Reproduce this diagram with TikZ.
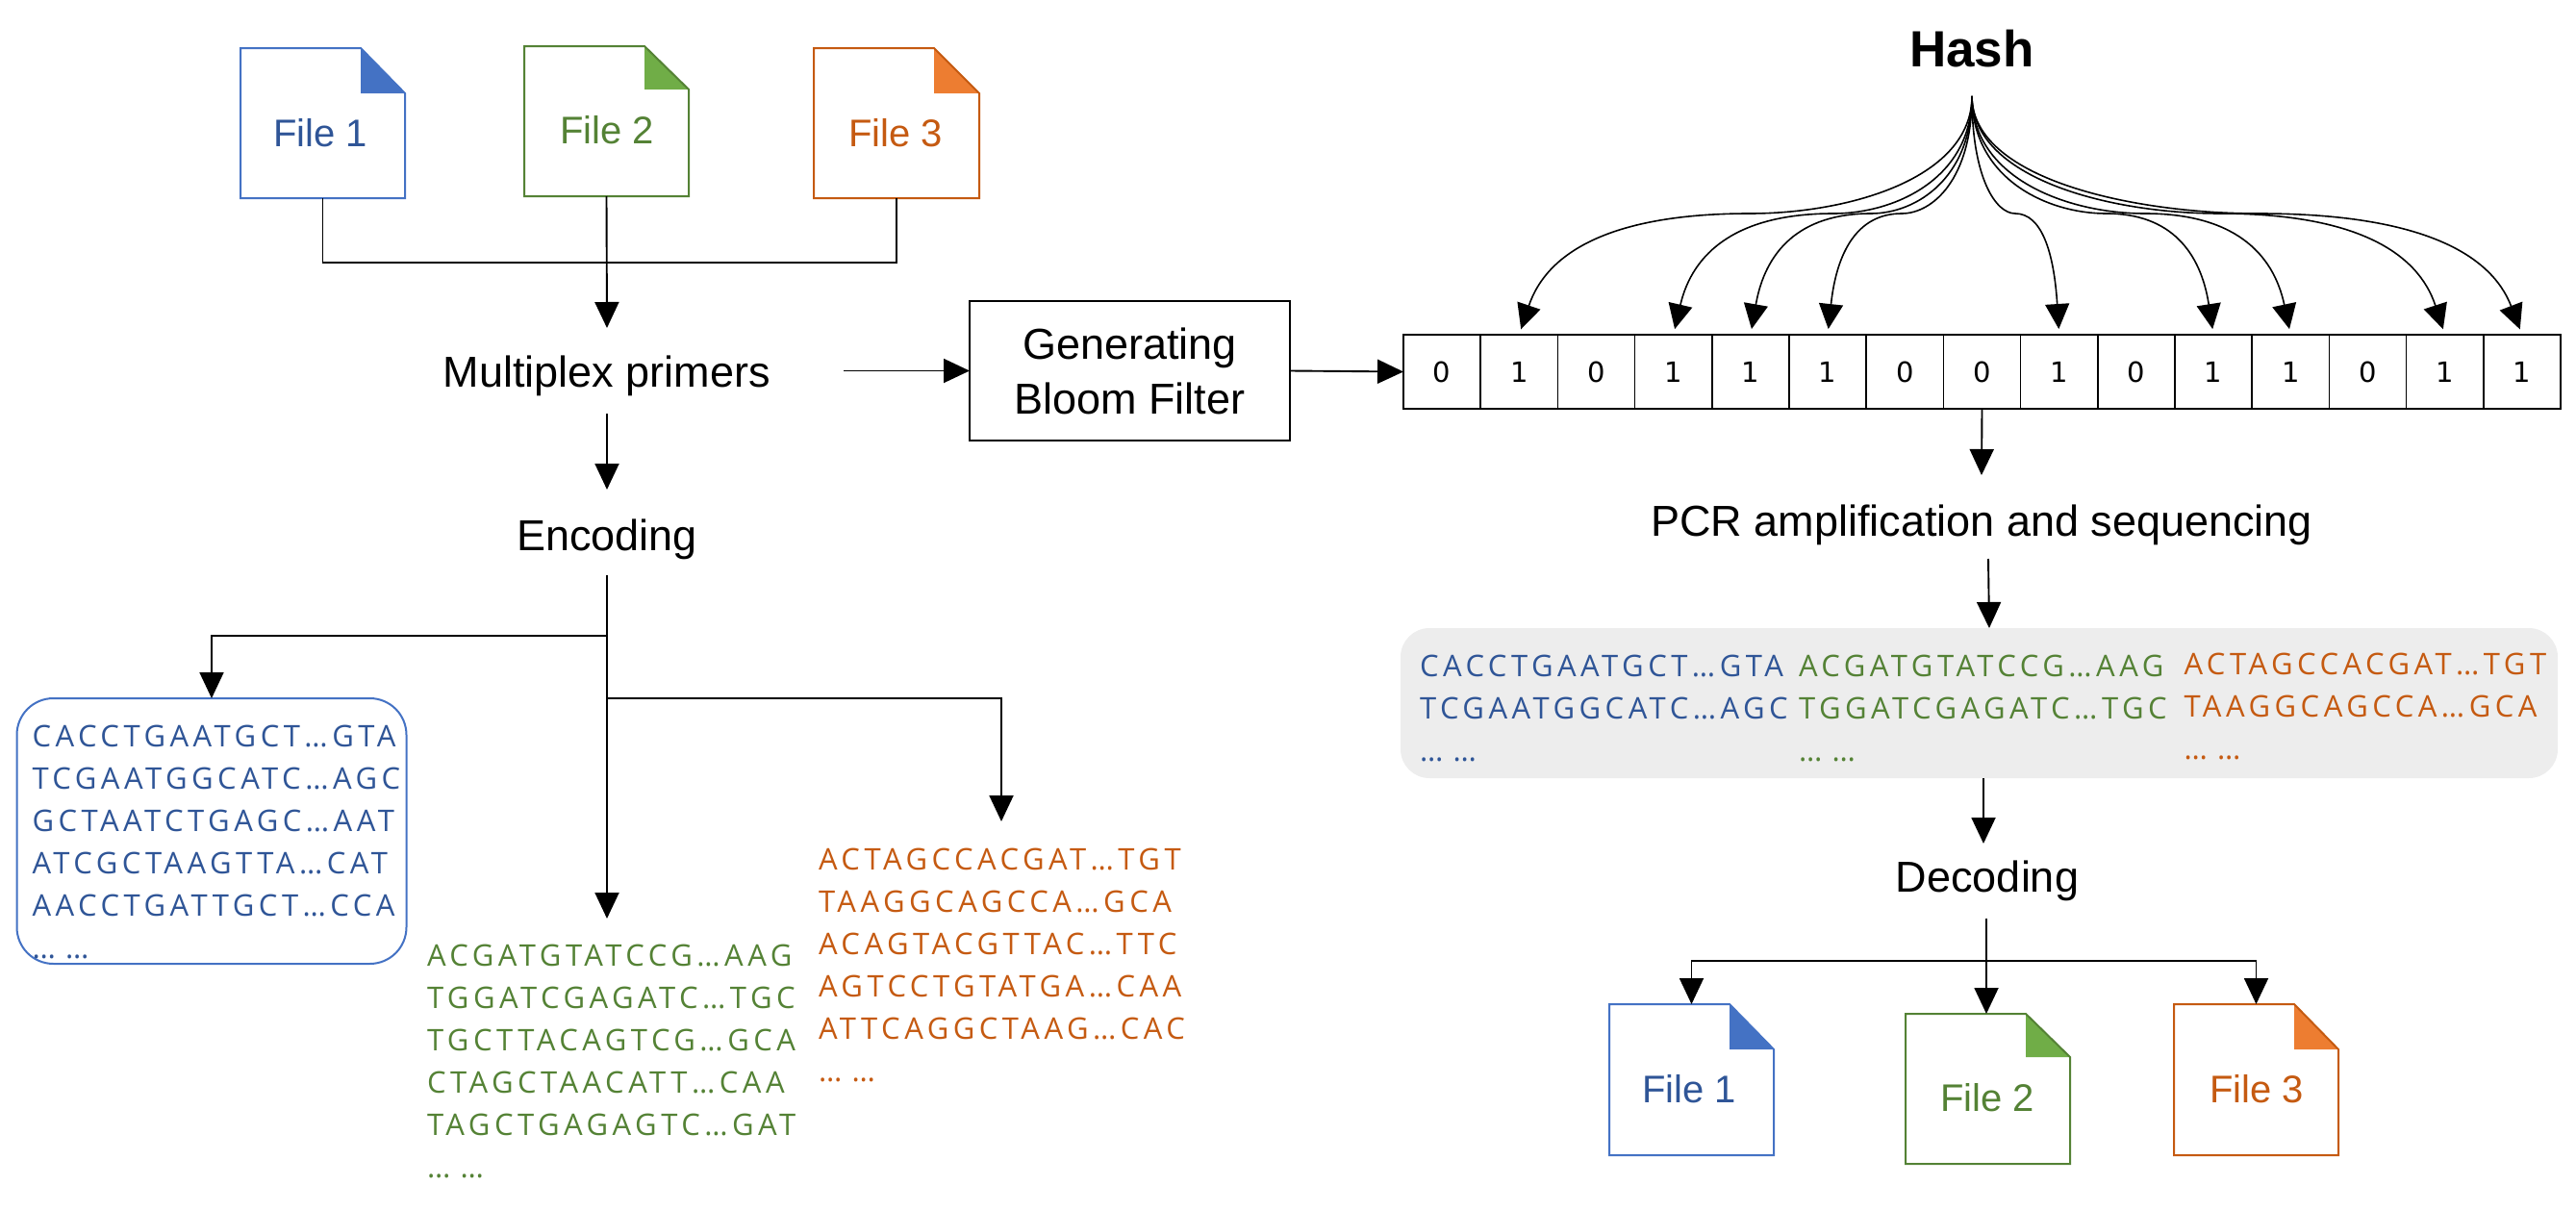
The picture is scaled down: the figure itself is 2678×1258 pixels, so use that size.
\documentclass[tikz,border=0pt]{standalone}
\usepackage{fontspec}
\setmainfont{Liberation Sans}
\newfontfamily\seqfont[LetterSpace=14.5]{Open Sans}
\newfontfamily\bitfont{DejaVu Sans}
\usetikzlibrary{arrows.meta}
\definecolor{bL}{HTML}{4472C4}\definecolor{bT}{HTML}{2F5597}
\definecolor{gL}{HTML}{548235}\definecolor{gF}{HTML}{70AD47}
\definecolor{oL}{HTML}{C55A11}\definecolor{oF}{HTML}{ED7D31}
\definecolor{panelgray}{HTML}{EDEDED}
\tikzset{
  conn/.style={line width=1.9pt,draw=black},
  arr/.style={conn,-{Triangle[length=27pt,width=25pt]}},
  curvearr/.style={line width=1.6pt,draw=black,-{Triangle[length=26pt,width=25pt]},shorten >=6pt},
  ghost/.style={inner sep=0pt,outer sep=0pt},
  caption/.style={ghost,font=\fontsize{45}{54}\selectfont,text depth=0pt},
  filetext/.style={ghost,anchor=base,font=\fontsize{40}{48}\selectfont},
  seqblock/.style={ghost,anchor=north west,text width=380pt,align=left,font=\seqfont\fontsize{31}{44}\selectfont},
  bitcell/.style={draw=black,line width=1.5pt,minimum width=80.2pt,minimum height=77pt,inner sep=0pt,outer sep=0pt,font=\bitfont\fontsize{29}{34}\selectfont},
}
\begin{document}
\begin{tikzpicture}[x=1pt,y=-1pt]
\useasboundingbox (0,0) rectangle (2678,1258);
% files
\foreach \n/\a/\b/\c/\d/\e/\f/\lc/\fc/\tc/\lab/\tx/\ty in {
 ft1/250/50/421/206/375/97/bL/bL/bT/File 1/333/152,
 ft2/545/48/716/204/670/93/gL/gF/gL/File 2/631/149,
 ft3/846/50/1018/206/971/97/oL/oF/oL/File 3/931/152,
 fb1/1673/1044/1844/1201/1798/1091/bL/bL/bT/File 1/1756/1146,
 fb2/1981/1054/2152/1210/2106/1099/gL/gF/gL/File 2/2066/1155,
 fb3/2260/1044/2431/1201/2385/1091/oL/oF/oL/File 3/2346/1146}{
  \node[ghost,minimum width={\c-\a},minimum height={\d-\b}] (\n) at ({(\a+\c)/2},{(\b+\d)/2}) {};
  \fill[\fc] (\e,\b) -- (\c,\f) -- (\e,\f) -- cycle;
  \draw[\lc,line width=2pt,line join=miter] (\a,\b) -- (\e,\b) -- (\c,\f) -- (\c,\d) -- (\a,\d) -- cycle;
  \node[filetext,text=\tc] (\n t) at (\tx,\ty) {\lab};
}
% captions
\node[caption,minimum width=492pt,minimum height=89pt,text height=33pt] (mp) at (631,385.5) {Multiplex primers};
\node[caption,minimum width=300pt,minimum height=89pt,text height=37pt] (enc) at (631,553.5) {Encoding};
\node[caption,minimum width=700pt,minimum height=87pt,text height=39pt] (pcr) at (2060,537.5) {PCR amplification and sequencing};
\node[caption,minimum width=300pt,minimum height=78pt,text height=22pt] (dec) at (2066,916) {Decoding};
\node[ghost,font=\bfseries\fontsize{53}{60}\selectfont,minimum width=200pt,minimum height=70pt,text height=8pt,text depth=0pt] (hash) at (2050,65) {Hash};
\node[draw=black,line width=2pt,minimum width=333pt,minimum height=145pt,inner sep=0pt,outer sep=0pt,align=center,font=\fontsize{45}{57}\selectfont] (bloom) at (1174.5,385.5) {Generating\\Bloom Filter};
% bits
\foreach \i/\v in {1/0,2/1,3/0,4/1,5/1,6/1,7/0,8/0,9/1,10/0,11/1,12/1,13/0,14/1,15/1}{
  \node[bitcell] (b\i) at ({1459+80.2*(\i-0.5)},386.5) {\v};
}
% blue box, panel
\node[draw=bL,line width=2pt,fill=white,rounded corners=38pt,minimum width=405pt,minimum height=276pt,inner sep=0pt,outer sep=0pt] (bluebox) at (220,864) {};
\node[fill=panelgray,rounded corners=30pt,minimum width=1203pt,minimum height=156pt,inner sep=0pt,outer sep=0pt] (panel) at (2057.5,731) {};
% sequences
\node[seqblock,text=bT] (sb) at (33.5,754) {CACCTGAATGCT…GTA\\TCGAATGGCATC…AGC\\GCTAATCTGAGC…AAT\\ATCGCTAAGTTA…CAT\\AACCTGATTGCT…CCA\\… …};
\node[seqblock,text=gL] (sg) at (444,982.5) {ACGATGTATCCG…AAG\\TGGATCGAGATC…TGC\\TGCTTACAGTCG…GCA\\CTAGCTAACATT…CAA\\TAGCTGAGAGTC…GAT\\… …};
\node[seqblock,text=oL] (so) at (851,882) {ACTAGCCACGAT…TGT\\TAAGGCAGCCA…GCA\\ACAGTACGTTAC…TTC\\AGTCCTGTATGA…CAA\\ATTCAGGCTAAG…CAC\\… …};
\node[seqblock,text=bT] (pb) at (1476,681.5) {CACCTGAATGCT…GTA\\TCGAATGGCATC…AGC\\… …};
\node[seqblock,text=gL] (pg) at (1870,681.5) {ACGATGTATCCG…AAG\\TGGATCGAGATC…TGC\\… …};
\node[seqblock,text=oL] (po) at (2270.5,679.5) {ACTAGCCACGAT…TGT\\TAAGGCAGCCA…GCA\\… …};
% connectors, top left
\coordinate (jt) at (631,273);
\draw[conn] (ft1.south) -- (ft1.south |- jt) -- (ft3.south |- jt) -- (ft3.south);
\draw[arr] (ft2.south) -- (mp.north);
\draw[arr] (mp.east) -- (bloom.west);
\draw[arr] (bloom.east) -- (b1.west);
\draw[arr] (mp.south) -- (enc.north);
\draw[arr,shorten >=27.5pt] (enc.south) -- (sg.north -| enc.south);
\coordinate (jl) at (631,661);
\coordinate (jr) at (631,726);
\draw[arr] (jl) -| (bluebox.north);
\draw[arr,shorten >=28pt] (jr) -| (so.north);
% hash fan
\foreach \i/\m in {2/1819,4/1906,5/1945,6/1977,9/2095,11/2190,12/2230,14/2308,15/2348}{
  \draw[curvearr] (hash.south) .. controls (2050,185) and ({\m+(2050-\m)*0.45},222) .. (\m,222)
     .. controls ({\m+(1459+80.2*(\i-0.5)-\m)*0.6},222) and ({1459+80.2*(\i-0.5)+(\m-1459-80.2*(\i-0.5))*0.12},262) .. (b\i.north);
}
% right column
\draw[arr] (b8.south) -- (pcr.north);
\draw[arr] ([xshift=7pt]pcr.south) -- ([xshift=10.5pt]panel.north);
\draw[arr] ([xshift=4.5pt]panel.south) -- ([xshift=-4pt]dec.north);
\coordinate (jd) at (2065,999);
\draw[arr] ([xshift=-1pt]dec.south) -- (fb2.north -| jd);
\draw[arr] (jd) -| (fb1.north);
\draw[arr] (jd) -| (fb3.north);
\end{tikzpicture}
\end{document}
